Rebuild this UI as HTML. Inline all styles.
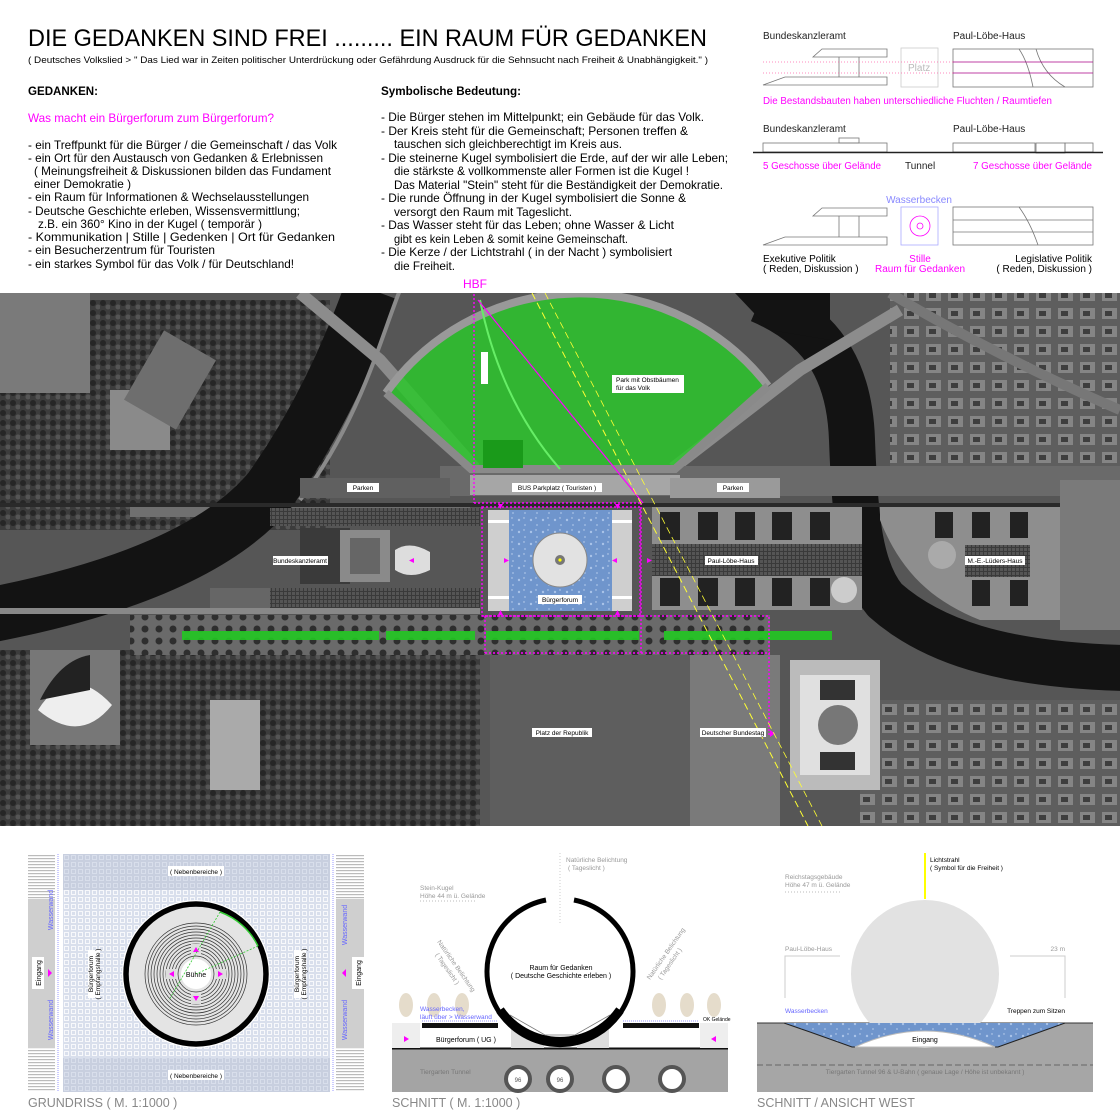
<!DOCTYPE html>
<html><head><meta charset="utf-8"><style>
html,body{margin:0;padding:0;background:#fff;}
svg{display:block;font-family:"Liberation Sans",sans-serif;}
</style></head><body>
<svg width="1120" height="1120" viewBox="0 0 1120 1120" xmlns="http://www.w3.org/2000/svg">
<defs>
<pattern id="grid" width="7" height="7" patternUnits="userSpaceOnUse"><rect width="7" height="7" fill="#d9dfec"/><rect x="1.5" y="1.5" width="4" height="4" fill="none" stroke="#fff" stroke-width="0.8"/></pattern>
<pattern id="grid2" width="7" height="7" patternUnits="userSpaceOnUse"><rect width="7" height="7" fill="#c8cfdf"/><rect x="1.5" y="1.5" width="4" height="4" fill="none" stroke="#dde2ee" stroke-width="0.8"/></pattern>
<pattern id="stripes" width="4" height="3" patternUnits="userSpaceOnUse"><rect width="4" height="3" fill="#fff"/><rect width="4" height="1.2" fill="#bbb"/></pattern>
<pattern id="water" width="12" height="12" patternUnits="userSpaceOnUse"><rect width="12" height="12" fill="#6f95cc"/><circle cx="3" cy="4" r="1.2" fill="#a9c3e8"/><circle cx="9" cy="9" r="1" fill="#9bb8e0"/><circle cx="8" cy="2" r="0.7" fill="#c4d6f0"/></pattern>
<pattern id="trees" width="14" height="12" patternUnits="userSpaceOnUse"><rect width="14" height="12" fill="#6a6a6a"/><circle cx="5" cy="5" r="3.5" fill="#2e2e2e"/></pattern>
<pattern id="forest" width="10" height="10" patternUnits="userSpaceOnUse"><rect width="10" height="10" fill="#3c3c3c"/><circle cx="3" cy="3" r="3" fill="#262626"/><circle cx="8" cy="7" r="2.5" fill="#555"/></pattern>
<pattern id="city" width="22" height="18" patternUnits="userSpaceOnUse"><rect width="22" height="18" fill="#5e5e5e"/><rect x="2" y="2" width="15" height="11" fill="#858585"/><rect x="5" y="5" width="7" height="5" fill="#3e3e3e"/></pattern>
<pattern id="solar" width="4" height="4" patternUnits="userSpaceOnUse"><rect width="4" height="4" fill="#3a3a3a"/><rect width="3" height="3" fill="#555"/></pattern>
</defs>

<!-- ===== TOP TEXT ===== -->
<text x="28" y="46" font-size="24" textLength="679" lengthAdjust="spacingAndGlyphs">DIE GEDANKEN SIND FREI ......... EIN RAUM FÜR GEDANKEN</text>
<text x="28" y="63" font-size="9.5" textLength="680" lengthAdjust="spacingAndGlyphs">( Deutsches Volkslied   &gt;  " Das Lied war in Zeiten politischer Unterdrückung oder Gefährdung Ausdruck für die Sehnsucht nach Freiheit &amp; Unabhängigkeit." )</text>
<text x="28" y="95" font-size="11.5" font-weight="bold" textLength="70" lengthAdjust="spacingAndGlyphs">GEDANKEN:</text>
<text x="28" y="122" font-size="12" fill="#ff00ff" textLength="246" lengthAdjust="spacingAndGlyphs">Was macht ein Bürgerforum zum Bürgerforum?</text>
<g font-size="12">
<text x="28" y="149" textLength="309" lengthAdjust="spacingAndGlyphs">- ein Treffpunkt für die Bürger / die Gemeinschaft / das Volk</text>
<text x="28" y="162" textLength="295" lengthAdjust="spacingAndGlyphs">- ein Ort für den Austausch von Gedanken &amp; Erlebnissen</text>
<text x="34" y="175" textLength="297" lengthAdjust="spacingAndGlyphs">( Meinungsfreiheit &amp; Diskussionen bilden das Fundament</text>
<text x="34" y="188" textLength="97" lengthAdjust="spacingAndGlyphs">einer Demokratie )</text>
<text x="28" y="201" textLength="281" lengthAdjust="spacingAndGlyphs">- ein Raum für Informationen &amp; Wechselausstellungen</text>
<text x="28" y="215" textLength="272" lengthAdjust="spacingAndGlyphs">- Deutsche Geschichte erleben, Wissensvermittlung;</text>
<text x="38" y="228" textLength="224" lengthAdjust="spacingAndGlyphs">z.B. ein 360° Kino in der Kugel ( temporär )</text>
<text x="28" y="241" textLength="307" lengthAdjust="spacingAndGlyphs">- Kommunikation  |  Stille  |  Gedenken  |  Ort für Gedanken</text>
<text x="28" y="254" textLength="187" lengthAdjust="spacingAndGlyphs">- ein Besucherzentrum für Touristen</text>
<text x="28" y="268" textLength="266" lengthAdjust="spacingAndGlyphs">- ein starkes Symbol für das Volk / für Deutschland!</text>
</g>
<text x="381" y="95" font-size="11.5" font-weight="bold" textLength="140" lengthAdjust="spacingAndGlyphs">Symbolische Bedeutung:</text>
<g font-size="12">
<text x="381" y="121" textLength="323" lengthAdjust="spacingAndGlyphs">-  Die Bürger stehen im Mittelpunkt; ein Gebäude für das Volk.</text>
<text x="381" y="135" textLength="307" lengthAdjust="spacingAndGlyphs">-  Der Kreis steht für die Gemeinschaft;  Personen treffen &amp;</text>
<text x="394" y="148" textLength="228" lengthAdjust="spacingAndGlyphs">tauschen sich gleichberechtigt im Kreis aus.</text>
<text x="381" y="162" textLength="347" lengthAdjust="spacingAndGlyphs">-  Die steinerne Kugel symbolisiert die Erde, auf der wir alle Leben;</text>
<text x="394" y="175" textLength="295" lengthAdjust="spacingAndGlyphs">die stärkste &amp; vollkommenste aller Formen ist die Kugel !</text>
<text x="394" y="189" textLength="329" lengthAdjust="spacingAndGlyphs">Das Material "Stein" steht für die Beständigkeit der Demokratie.</text>
<text x="381" y="202" textLength="305" lengthAdjust="spacingAndGlyphs">-  Die runde Öffnung in der Kugel symbolisiert die Sonne &amp;</text>
<text x="394" y="216" textLength="178" lengthAdjust="spacingAndGlyphs">versorgt den Raum mit Tageslicht.</text>
<text x="381" y="229" textLength="293" lengthAdjust="spacingAndGlyphs">-  Das Wasser steht für das Leben; ohne Wasser &amp; Licht</text>
<text x="394" y="243" textLength="234" lengthAdjust="spacingAndGlyphs">gibt es kein Leben &amp; somit keine Gemeinschaft.</text>
<text x="381" y="256" textLength="291" lengthAdjust="spacingAndGlyphs">-  Die Kerze / der Lichtstrahl ( in der Nacht ) symbolisiert</text>
<text x="394" y="270" textLength="61" lengthAdjust="spacingAndGlyphs">die Freiheit.</text>
</g>
<text x="463" y="288" font-size="12" fill="#ff00ff">HBF</text>

<!-- ===== TOP RIGHT DIAGRAMS ===== -->
<g font-size="10" fill="#222">
<text x="763" y="39">Bundeskanzleramt</text>
<text x="953" y="39">Paul-Löbe-Haus</text>
</g>
<g fill="none" stroke="#777" stroke-width="0.8">
<polygon points="822,49 887,49 887,57 813,57"/>
<polygon points="785,77 887,77 887,85 763,85"/>
<line x1="839" y1="57" x2="839" y2="77"/><line x1="859" y1="57" x2="859" y2="77"/>
<rect x="901" y="48" width="37" height="39" stroke="#ccc"/>
<rect x="953" y="49" width="140" height="38"/>
<path d="M1019,49 Q1028,62 1033,87"/><path d="M1036,49 Q1043,74 1065,87"/>
</g>
<text x="908" y="71" font-size="10" fill="#bbb">Platz</text>
<line x1="763" y1="62" x2="953" y2="62" stroke="#f6a" stroke-width="0.8" stroke-dasharray="1,2"/>
<line x1="763" y1="73" x2="953" y2="73" stroke="#f6a" stroke-width="0.8" stroke-dasharray="1,2"/>
<line x1="953" y1="62" x2="1093" y2="62" stroke="#a08" stroke-width="0.8"/>
<line x1="953" y1="73" x2="1093" y2="73" stroke="#a08" stroke-width="0.8"/>
<text x="763" y="104" font-size="10" fill="#ff00ff" textLength="289" lengthAdjust="spacingAndGlyphs">Die Bestandsbauten haben unterschiedliche Fluchten / Raumtiefen</text>
<g font-size="10" fill="#222">
<text x="763" y="132">Bundeskanzleramt</text>
<text x="953" y="132">Paul-Löbe-Haus</text>
</g>
<g fill="none" stroke="#777" stroke-width="0.8">
<rect x="763" y="143" width="124" height="9"/><rect x="839" y="138" width="20" height="5"/>
<rect x="953" y="143" width="82" height="9"/><rect x="1036" y="143" width="29" height="10"/><rect x="1065" y="143" width="28" height="9"/>
</g>
<line x1="753" y1="152.5" x2="1103" y2="152.5" stroke="#222" stroke-width="1.6"/>
<text x="763" y="169" font-size="10" fill="#ff00ff" textLength="118" lengthAdjust="spacingAndGlyphs">5 Geschosse über Gelände</text>
<text x="905" y="169" font-size="10" fill="#222">Tunnel</text>
<text x="973" y="169" font-size="10" fill="#ff00ff" textLength="119" lengthAdjust="spacingAndGlyphs">7 Geschosse über Gelände</text>
<text x="919" y="203" font-size="10" fill="#88f" text-anchor="middle">Wasserbecken</text>
<g fill="none" stroke="#777" stroke-width="0.8">
<polygon points="822,208 887,208 887,216 813,216"/>
<polygon points="785,237 887,237 887,245 763,245"/>
<line x1="839" y1="216" x2="839" y2="237"/><line x1="859" y1="216" x2="859" y2="237"/>
<rect x="953" y="207" width="140" height="38"/>
<line x1="953" y1="220" x2="1093" y2="220"/><line x1="953" y1="232" x2="1093" y2="232"/>
<path d="M1019,207 Q1030,222 1038,245"/>
</g>
<rect x="901" y="207" width="37" height="38" fill="none" stroke="#aaf" stroke-width="0.8"/>
<circle cx="920" cy="226" r="10" fill="none" stroke="#f0f" stroke-width="0.8"/>
<circle cx="920" cy="226" r="3" fill="none" stroke="#f0f" stroke-width="0.8"/>
<g font-size="10">
<text x="763" y="262">Exekutive Politik</text>
<text x="763" y="272">( Reden, Diskussion )</text>
<text x="920" y="262" fill="#ff00ff" text-anchor="middle">Stille</text>
<text x="920" y="272" fill="#ff00ff" text-anchor="middle">Raum für Gedanken</text>
<text x="1092" y="262" text-anchor="end">Legislative Politik</text>
<text x="1092" y="272" text-anchor="end">( Reden, Diskussion )</text>
</g>

<!-- ===== AERIAL PHOTO ===== -->
<svg x="0" y="293" width="1120" height="533" viewBox="0 293 1120 533">
<rect x="0" y="293" width="1120" height="533" fill="#565656"/>
<rect x="0" y="300" width="330" height="230" fill="url(#forest)"/>
<rect x="0" y="650" width="480" height="176" fill="url(#forest)"/>
<rect x="860" y="700" width="260" height="126" fill="url(#city)"/>
<rect x="890" y="293" width="230" height="190" fill="url(#city)"/>
<rect x="0" y="293" width="90" height="100" fill="#7a7a7a"/>
<rect x="110" y="390" width="60" height="60" fill="#8a8a8a"/>
<rect x="140" y="340" width="60" height="80" fill="#6e6e6e" transform="rotate(30 170 380)"/>
<rect x="130" y="615" width="640" height="40" fill="url(#trees)"/>
<rect x="130" y="505" width="340" height="12" fill="#707070"/>
<path d="M372,290 C350,350 320,420 270,490 C220,550 120,590 -10,615" fill="none" stroke="#131313" stroke-width="55"/>
<path d="M400,290 C380,340 360,420 300,500" fill="none" stroke="#8a8a8a" stroke-width="4"/>
<path d="M760,300 C830,330 850,380 852,440 C855,520 860,570 885,600 C930,640 1000,665 1125,668" fill="none" stroke="#131313" stroke-width="46"/>
<path d="M735,293 L830,293 L830,340 L770,330 Z" fill="#131313"/>
<rect x="0" y="503" width="1120" height="4" fill="#2a2a2a"/>
<path d="M300,293 L380,360 L475,468" fill="none" stroke="#8c8c8c" stroke-width="12"/>
<path d="M900,310 L800,370 L673,468" fill="none" stroke="#8c8c8c" stroke-width="12"/>
<path d="M890,293 C950,330 1050,380 1120,410" fill="none" stroke="#777" stroke-width="10"/>
<rect x="0" y="608" width="480" height="6" fill="#888"/>
<rect x="440" y="466" width="680" height="30" fill="#6a6a6a"/>
<rect x="300" y="478" width="150" height="20" fill="#606060"/>
<rect x="470" y="475" width="210" height="20" fill="#a6a6a6"/>
<rect x="670" y="478" width="110" height="20" fill="#9a9a9a"/>
<rect x="270" y="508" width="210" height="18" fill="url(#solar)"/>
<rect x="270" y="588" width="210" height="20" fill="url(#solar)"/>
<rect x="210" y="588" width="60" height="20" fill="#666"/>
<rect x="300" y="528" width="50" height="56" fill="#3a3a3a"/>
<rect x="340" y="530" width="50" height="52" fill="#8a8a8a"/>
<rect x="350" y="538" width="30" height="36" fill="#666"/>
<path d="M395,550 Q410,540 430,552 L430,570 Q410,580 395,570 Z" fill="#ddd"/>
<rect x="652" y="507" width="210" height="103" fill="#8e8e8e"/>
<g fill="#222"><rect x="660" y="512" width="20" height="28"/><rect x="698" y="512" width="20" height="28"/><rect x="735" y="512" width="20" height="28"/><rect x="772" y="512" width="20" height="28"/><rect x="810" y="512" width="20" height="28"/>
<rect x="660" y="578" width="20" height="28"/><rect x="698" y="578" width="20" height="28"/><rect x="735" y="578" width="20" height="28"/><rect x="772" y="578" width="20" height="28"/><rect x="810" y="578" width="20" height="28"/></g>
<rect x="652" y="544" width="210" height="32" fill="url(#solar)"/>
<circle cx="844" cy="590" r="13" fill="#ccc"/>
<path d="M880,507 L1060,507 L1060,620 L980,620 C930,600 900,570 880,520 Z" fill="#8e8e8e"/>
<rect x="965" y="545" width="65" height="32" fill="url(#solar)"/>
<circle cx="942" cy="555" r="14" fill="#aaa"/>
<g fill="#222"><rect x="935" y="512" width="18" height="26"/><rect x="972" y="512" width="18" height="26"/><rect x="1010" y="512" width="18" height="26"/><rect x="972" y="580" width="18" height="26"/><rect x="1010" y="580" width="18" height="26"/></g>
<rect x="1060" y="480" width="60" height="150" fill="#7a7a7a"/>
<rect x="30" y="650" width="90" height="95" fill="#777"/>
<path d="M38,710 Q70,660 112,705 Q80,745 38,710 Z" fill="#eee"/>
<path d="M40,700 Q60,660 90,655 L90,690 Z" fill="#222"/>
<rect x="210" y="700" width="50" height="90" fill="#aaa"/>
<rect x="490" y="655" width="280" height="171" fill="#5e5e5e"/>
<rect x="690" y="655" width="90" height="171" fill="#7a7a7a"/>
<rect x="790" y="660" width="90" height="130" fill="#bbb"/>
<rect x="800" y="675" width="70" height="100" fill="#e0e0e0"/>
<circle cx="838" cy="725" r="20" fill="#777"/>
<rect x="820" y="680" width="35" height="20" fill="#333"/>
<rect x="820" y="752" width="35" height="18" fill="#333"/>
<path d="M386,393 A238,238 0 0 1 768,386 L675,469 L471,469 Z" fill="#2bc52b" fill-opacity="0.85"/>
<path d="M386,393 A238,238 0 0 1 768,386" fill="none" stroke="#999" stroke-width="8"/>
<path d="M386,393 L471,469 L675,469 L768,386" fill="none" stroke="#8a8a8a" stroke-width="8"/>
<path d="M480,300 Q500,400 560,469" fill="none" stroke="#6e6" stroke-width="2"/>
<rect x="483" y="440" width="40" height="28" fill="#1a9a1a"/>
<g fill="#22c822" fill-opacity="0.9">
<rect x="182" y="631" width="197" height="9"/><rect x="386" y="631" width="89" height="9"/><rect x="486" y="631" width="153" height="9"/><rect x="664" y="631" width="168" height="9"/>
</g>
<rect x="488" y="510" width="144" height="101" fill="#cfcfcf"/>
<rect x="488" y="520" width="21" height="3" fill="#fff"/><rect x="612" y="520" width="20" height="3" fill="#fff"/>
<rect x="488" y="596" width="21" height="3" fill="#fff"/><rect x="612" y="596" width="20" height="3" fill="#fff"/>
<rect x="509" y="510" width="103" height="101" fill="url(#water)"/>
<circle cx="560" cy="560" r="27" fill="#e2e2e2" stroke="#888" stroke-width="1"/>
<circle cx="560" cy="560" r="5" fill="#777"/><circle cx="560" cy="560" r="1.6" fill="#ff0"/>
<g fill="none" stroke="#ff00ff" stroke-width="1.4" stroke-dasharray="2,2">
<line x1="474" y1="282" x2="474" y2="503"/>
<line x1="474" y1="503" x2="641" y2="503"/>
<line x1="641" y1="503" x2="641" y2="653"/>
<rect x="482" y="507" width="158" height="109"/>
<polyline points="482,616 769,616 769,735"/>
<line x1="485" y1="653" x2="770" y2="653"/>
<line x1="485" y1="616" x2="485" y2="653"/>
</g>
<line x1="478" y1="300" x2="643" y2="503" stroke="#ff00ff" stroke-width="1.2"/>
<g fill="#ff00ff">
<polygon points="498,504 503,504 500.5,509"/><polygon points="615,504 620,504 617.5,509"/>
<polygon points="498,615 503,615 500.5,610"/><polygon points="615,615 620,615 617.5,610"/>
<polygon points="504,558 504,563 509,560.5"/><polygon points="617,558 617,563 612,560.5"/>
<polygon points="647,558 647,563 652,560.5"/><polygon points="414,558 414,563 409,560.5"/>
<polygon points="770,730 770,737 775,733.5"/>
</g>
<line x1="532" y1="293" x2="808" y2="826" stroke="#ffff33" stroke-width="1" stroke-dasharray="7,4"/>
<line x1="545" y1="293" x2="822" y2="826" stroke="#ffff33" stroke-width="0.8" stroke-dasharray="7,4"/>
<g font-size="6.5" text-anchor="middle">
<rect x="612" y="375" width="72" height="18" fill="#fff"/><text x="616" y="382" text-anchor="start">Park mit Obstbäumen</text><text x="616" y="390" text-anchor="start">für das Volk</text>
<rect x="347" y="483" width="32" height="9" fill="#fff"/><text x="363" y="490">Parken</text>
<rect x="717" y="483" width="32" height="9" fill="#fff"/><text x="733" y="490">Parken</text>
<rect x="512" y="483" width="90" height="9" fill="#fff"/><text x="557" y="490">BUS Parkplatz  ( Touristen )</text>
<rect x="273" y="556" width="55" height="9" fill="#fff"/><text x="300" y="563">Bundeskanzleramt</text>
<rect x="705" y="556" width="53" height="9" fill="#fff"/><text x="731" y="563">Paul-Löbe-Haus</text>
<rect x="965" y="556" width="60" height="9" fill="#fff"/><text x="995" y="563">M.-E.-Lüders-Haus</text>
<rect x="538" y="595" width="44" height="9" fill="#fff"/><text x="560" y="602">Bürgerforum</text>
<rect x="532" y="728" width="60" height="9" fill="#fff"/><text x="562" y="735">Platz der Republik</text>
<rect x="700" y="728" width="66" height="9" fill="#fff"/><text x="733" y="735">Deutscher Bundestag</text>
<rect x="481" y="352" width="7" height="32" fill="#fff"/>
</g>
</svg>

<!-- ===== GRUNDRISS ===== -->
<rect x="63" y="854" width="267" height="238" fill="url(#grid)"/>
<rect x="63" y="854" width="267" height="36" fill="url(#grid2)"/>
<rect x="63" y="1058" width="267" height="34" fill="url(#grid2)"/>
<rect x="28" y="854" width="27" height="238" fill="url(#stripes)"/>
<rect x="28" y="899" width="27" height="149" fill="#cfcfcf"/>
<rect x="336" y="854" width="28" height="238" fill="url(#stripes)"/>
<rect x="336" y="899" width="28" height="149" fill="#cfcfcf"/>
<line x1="58" y1="854" x2="58" y2="1092" stroke="#99f" stroke-dasharray="1,1"/>
<line x1="333" y1="854" x2="333" y2="1092" stroke="#99f" stroke-dasharray="1,1"/>
<rect x="32" y="957" width="12" height="32" fill="#fff"/>
<rect x="352" y="957" width="12" height="32" fill="#fff"/>
<text transform="translate(41,973) rotate(-90)" font-size="7" text-anchor="middle">Eingang</text>
<text transform="translate(361,973) rotate(-90)" font-size="7" text-anchor="middle">Eingang</text>
<text transform="translate(53,910) rotate(-90)" font-size="7" fill="#66f" text-anchor="middle">Wasserwand</text>
<text transform="translate(53,1020) rotate(-90)" font-size="7" fill="#66f" text-anchor="middle">Wasserwand</text>
<text transform="translate(347,925) rotate(-90)" font-size="7" fill="#66f" text-anchor="middle">Wasserwand</text>
<text transform="translate(347,1020) rotate(-90)" font-size="7" fill="#66f" text-anchor="middle">Wasserwand</text>
<polygon points="48,969 48,977 52,973" fill="#f0f"/><polygon points="346,969 346,977 342,973" fill="#f0f"/>
<rect x="88" y="950" width="12" height="48" fill="#fff"/><rect x="294" y="950" width="12" height="48" fill="#fff"/>
<text transform="translate(93,974) rotate(-90)" font-size="6.5" text-anchor="middle">Bürgerforum</text>
<text transform="translate(100,974) rotate(-90)" font-size="6.5" text-anchor="middle">( Empfangshalle )</text>
<text transform="translate(299,974) rotate(-90)" font-size="6.5" text-anchor="middle">Bürgerforum</text>
<text transform="translate(306,974) rotate(-90)" font-size="6.5" text-anchor="middle">( Empfangshalle )</text>
<rect x="168" y="866" width="56" height="10" fill="#fff"/><text x="196" y="874" font-size="6.5" text-anchor="middle">( Nebenbereiche )</text>
<rect x="168" y="1070" width="56" height="10" fill="#fff"/><text x="196" y="1078" font-size="6.5" text-anchor="middle">( Nebenbereiche )</text>
<circle cx="196" cy="974" r="74" fill="#fff"/>
<circle cx="196" cy="974" r="70" fill="#e4e4e4" stroke="#000" stroke-width="5.5"/>
<g fill="none" stroke="#333" stroke-width="0.7">
<circle cx="196" cy="974" r="51"/><circle cx="196" cy="974" r="48"/><circle cx="196" cy="974" r="45"/><circle cx="196" cy="974" r="42"/><circle cx="196" cy="974" r="39"/><circle cx="196" cy="974" r="36"/><circle cx="196" cy="974" r="33"/><circle cx="196" cy="974" r="30"/><circle cx="196" cy="974" r="27"/><circle cx="196" cy="974" r="24"/><circle cx="196" cy="974" r="21"/><circle cx="196" cy="974" r="18"/>
</g>
<circle cx="196" cy="974" r="15" fill="#fff"/>
<text x="196" y="977" font-size="7" text-anchor="middle">Bühne</text>
<g fill="#ddd"><rect x="191" y="944" width="10" height="10"/><rect x="191" y="994" width="10" height="10"/><rect x="166" y="969" width="10" height="10"/><rect x="216" y="969" width="10" height="10"/></g>
<g fill="#f0f"><polygon points="193,952 199,952 196,947"/><polygon points="193,996 199,996 196,1001"/><polygon points="174,971 174,977 169,974"/><polygon points="218,971 218,977 223,974"/></g>
<path d="M220,912 A68,68 0 0 1 258,946" fill="none" stroke="#3c3" stroke-width="1.5"/>
<g stroke="#3c3" stroke-width="0.8" stroke-dasharray="2,1.5"><line x1="220" y1="912" x2="169" y2="1000"/><line x1="258" y1="946" x2="196" y2="974"/></g>
<text x="28" y="1107" font-size="12.5" fill="#888">GRUNDRISS  ( M. 1:1000 )</text>

<!-- ===== SCHNITT ===== -->
<rect x="392" y="1049" width="336" height="43" fill="#a4a4a4"/>
<line x1="392" y1="1048.5" x2="728" y2="1048.5" stroke="#111" stroke-width="2"/>
<text x="420" y="1074" font-size="6.5" fill="#777">Tiergarten Tunnel</text>
<g fill="#fff" stroke="#555" stroke-width="4">
<circle cx="518" cy="1079" r="12"/><circle cx="560" cy="1079" r="12"/><circle cx="616" cy="1079" r="12"/><circle cx="672" cy="1079" r="12"/>
</g>
<text x="518" y="1082" font-size="6" text-anchor="middle" fill="#555">96</text><text x="560" y="1082" font-size="6" text-anchor="middle" fill="#555">96</text>
<rect x="392" y="1023" width="28" height="25" fill="#eee"/><rect x="700" y="1023" width="28" height="25" fill="#eee"/>
<rect x="511" y="1025" width="33" height="23" fill="#ddd"/><rect x="577" y="1025" width="32" height="23" fill="#ddd"/>
<rect x="422" y="1023" width="76" height="5" fill="#111"/><rect x="623" y="1023" width="76" height="5" fill="#111"/>
<line x1="422" y1="1021" x2="498" y2="1021" stroke="#99f" stroke-dasharray="1,1"/><line x1="623" y1="1021" x2="699" y2="1021" stroke="#99f" stroke-dasharray="1,1"/>
<polygon points="404,1036 404,1042 409,1039" fill="#f0f"/><polygon points="716,1036 716,1042 711,1039" fill="#f0f"/>
<text x="436" y="1042" font-size="7">Bürgerforum ( UG )</text>
<g fill="#e5dccb"><ellipse cx="406" cy="1005" rx="7" ry="12"/><ellipse cx="434" cy="1005" rx="7" ry="12"/><ellipse cx="462" cy="1005" rx="7" ry="12"/><ellipse cx="659" cy="1005" rx="7" ry="12"/><ellipse cx="687" cy="1005" rx="7" ry="12"/><ellipse cx="714" cy="1005" rx="7" ry="12"/></g>
<circle cx="560" cy="973" r="71" fill="#fff"/>
<path d="M546,900 A73,73 0 1 0 574,900" fill="none" stroke="#000" stroke-width="5"/>
<path d="M500,1010 A73,73 0 0 0 620,1010" fill="none" stroke="#000" stroke-width="9"/>
<polyline points="510,1015 545,1035 575,1035 610,1015" fill="none" stroke="#777" stroke-width="0.8"/>
<g font-size="6.5" fill="#999">
<text x="566" y="862">Natürliche Belichtung</text><text x="568" y="870">( Tageslicht )</text>
<text x="420" y="890">Stein-Kugel</text><text x="420" y="898">Höhe 44 m ü. Gelände</text>
<text transform="translate(437,942) rotate(55)">Natürliche Belichtung</text>
<text transform="translate(435,955) rotate(55)">( Tageslicht )</text>
<text transform="translate(650,980) rotate(-55)">Natürliche Belichtung</text>
<text transform="translate(661,980) rotate(-55)">( Tageslicht )</text>
</g>
<line x1="420" y1="901" x2="475" y2="901" stroke="#bbb" stroke-dasharray="1,2"/>
<line x1="560" y1="853" x2="560" y2="925" stroke="#ccc" stroke-dasharray="1,2"/>
<g font-size="7" text-anchor="middle"><text x="561" y="970">Raum für Gedanken</text><text x="561" y="978">( Deutsche Geschichte erleben )</text></g>
<text x="420" y="1011" font-size="6.5" fill="#66f">Wasserbecken,</text>
<text x="420" y="1019" font-size="6.5" fill="#66f">läuft über &gt; Wasserwand</text>
<text x="703" y="1021" font-size="5">OK Gelände</text>
<text x="392" y="1107" font-size="12.5" fill="#888">SCHNITT  ( M. 1:1000 )</text>

<!-- ===== ANSICHT WEST ===== -->
<rect x="757" y="1023" width="336" height="69" fill="#a6a6a6"/>
<line x1="757" y1="1023" x2="1093" y2="1023" stroke="#333" stroke-width="1"/>
<circle cx="925" cy="974" r="74" fill="#e2e2e2"/>
<polygon points="784,1023 1065,1023 1040,1032 998,1047 852,1047 810,1032" fill="url(#water)"/>
<polyline points="784,1023 810,1032 852,1047 998,1047 1040,1032 1065,1023" fill="none" stroke="#222" stroke-width="1"/>
<path d="M855,1047 Q925,1015 995,1047 Z" fill="#fff" stroke="#bbb"/>
<line x1="925" y1="853" x2="925" y2="899" stroke="#ff0" stroke-width="2"/>
<line x1="757" y1="1065" x2="1093" y2="1065" stroke="#666" stroke-dasharray="6,3"/>
<g fill="none" stroke="#ccc"><polyline points="785,998 785,956 840,956"/><polyline points="1065,998 1065,956 1010,956"/></g>
<g font-size="6.5" fill="#999">
<text x="785" y="879">Reichstagsgebäude</text><text x="785" y="887">Höhe 47 m ü. Gelände</text>
<text x="785" y="951">Paul-Löbe-Haus</text><text x="1065" y="951" text-anchor="end">23 m</text>
<text x="925" y="1074" text-anchor="middle" fill="#777">Tiergarten Tunnel 96  &amp;  U-Bahn  ( genaue Lage / Höhe ist unbekannt )</text>
</g>
<line x1="785" y1="892" x2="840" y2="892" stroke="#bbb" stroke-dasharray="1,2"/>
<g font-size="6.5"><text x="930" y="862">Lichtstrahl</text><text x="930" y="870">( Symbol für die Freiheit )</text>
<text x="1065" y="1013" text-anchor="end">Treppen zum Sitzen</text>
<text x="925" y="1042" text-anchor="middle" font-size="7">Eingang</text></g>
<text x="785" y="1013" font-size="6.5" fill="#66f">Wasserbecken</text>
<text x="757" y="1107" font-size="12.5" fill="#888">SCHNITT  /  ANSICHT WEST</text>
</svg>
</body></html>
